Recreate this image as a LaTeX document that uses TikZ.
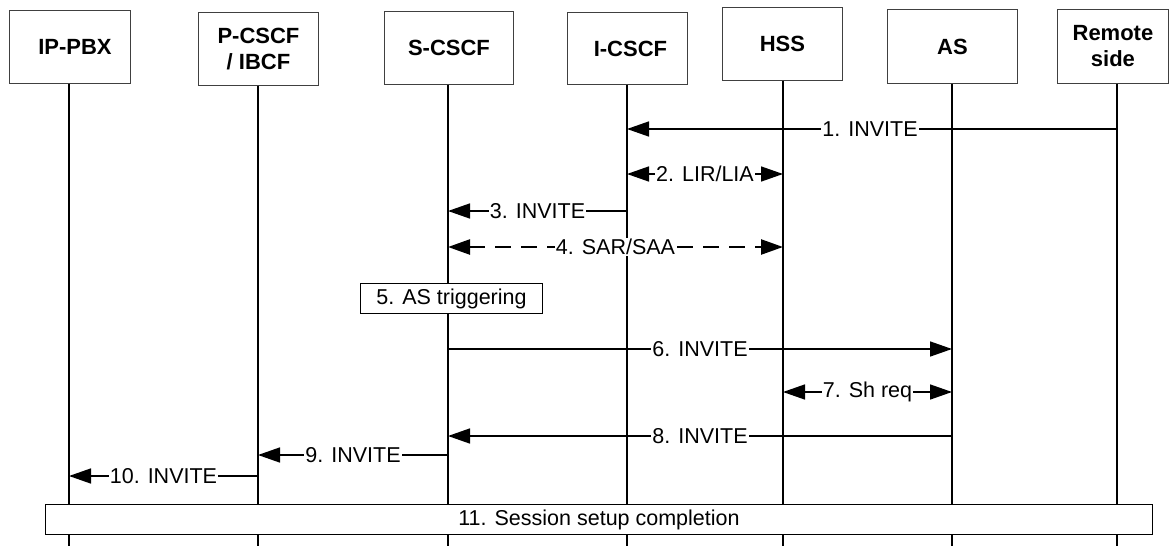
\documentclass[tikz,border=0pt]{standalone}
\usepackage{fontspec}
\setmainfont{Liberation Sans}
\usetikzlibrary{arrows.meta}
\tikzset{
  x=1pt, y=-1pt,
  ent/.style={draw=black!75, line width=0.9pt, fill=white, align=center,
    font=\fontsize{22}{26}\selectfont\bfseries, inner sep=0pt, anchor=north west},
  life/.style={line width=1.4pt, black},
  msg/.style={line width=1.5pt, black, -{Triangle[length=22pt,width=15pt]}},
  dmsg/.style={line width=1.5pt, black, {Triangle[length=22pt,width=15pt]}-{Triangle[length=22pt,width=15pt]}},
  dashmsg/.style={line width=2.4pt, black, dash pattern=on 16pt off 10pt,
    {Triangle[length=22pt,width=15pt]}-{Triangle[length=22pt,width=15pt]}},
  lbl/.style={fill=white, inner sep=1pt, font=\fontsize{21.5}{25}\selectfont},
  stepbox/.style={draw=black, line width=1pt, fill=white, inner sep=0pt,
    anchor=north west, font=\fontsize{21.5}{25}\selectfont},
}
\begin{document}
\begin{tikzpicture}
\useasboundingbox (0,0) rectangle (1169,546);
% lifeline x positions
\coordinate (xPBX) at (69,0);
\coordinate (xP) at (258,0);
\coordinate (xS) at (448,0);
\coordinate (xI) at (627,0);
\coordinate (xH) at (783,0);
\coordinate (xA) at (952,0);
\coordinate (xR) at (1117,0);
\coordinate (bot) at (0,546);
% entity boxes
\node[ent, minimum width=121pt, minimum height=73pt] (pbx) at (9,10) {\hspace*{10pt}IP-PBX};
\node[ent, minimum width=120pt, minimum height=73pt] (pcscf) at (198,12) {P-CSCF\\/ IBCF};
\node[ent, minimum width=129pt, minimum height=73pt] (scscf) at (384,11) {S-CSCF};
\node[ent, minimum width=120pt, minimum height=72pt] (icscf) at (567,12) {\hspace*{6pt}I-CSCF};
\node[ent, minimum width=120pt, minimum height=73pt] (hss) at (722,7) {HSS};
\node[ent, minimum width=130pt, minimum height=74pt] (as) at (887,9) {AS};
\node[ent, minimum width=111pt, minimum height=74pt] (rem) at (1057,9) {Remote\\side};
% lifelines
\draw[life] (xPBX |- pbx.south) -- (xPBX |- bot);
\draw[life] (xP |- pcscf.south) -- (xP |- bot);
\draw[life] (xS |- scscf.south) -- (xS |- bot);
\draw[life] (xI |- icscf.south) -- (xI |- bot);
\draw[life] (xH |- hss.south) -- (xH |- bot);
\draw[life] (xA |- as.south) -- (xA |- bot);
\draw[life] (xR |- rem.south) -- (xR |- bot);
% message rows
\coordinate (y1) at (0,129);
\coordinate (y2) at (0,174);
\coordinate (y3) at (0,211);
\coordinate (y4) at (0,247);
\coordinate (y6) at (0,349);
\coordinate (y7) at (0,392);
\coordinate (y8) at (0,436);
\coordinate (y9) at (0,455);
\coordinate (y10) at (0,476);
% messages
\draw[msg] (xR |- y1) -- node[lbl, pos=0.504]{1. INVITE} (xI |- y1);
\draw[dmsg] (xI |- y2) -- node[lbl]{2. LIR/LIA} (xH |- y2);
\draw[msg] (xI |- y3) -- node[lbl]{3. INVITE} (xS |- y3);
\draw[dashmsg] (xS |- y4) -- node[lbl]{4. SAR/SAA} (xH |- y4);
\node[stepbox, minimum width=182pt, minimum height=30pt] (as5) at (360,283) {5. AS triggering};
\draw[msg] (xS |- y6) -- node[lbl]{6. INVITE} (xA |- y6);
\draw[dmsg] (xH |- y7) -- node[lbl]{7. Sh req} (xA |- y7);
\draw[msg] (xA |- y8) -- node[lbl]{8. INVITE} (xS |- y8);
\draw[msg] (xS |- y9) -- node[lbl]{9. INVITE} (xP |- y9);
\draw[msg] (xP |- y10) -- node[lbl]{10. INVITE} (xPBX |- y10);
\node[stepbox, minimum width=1107pt, minimum height=30pt] (sess) at (45,504) {11. Session setup completion};
\end{tikzpicture}
\end{document}
